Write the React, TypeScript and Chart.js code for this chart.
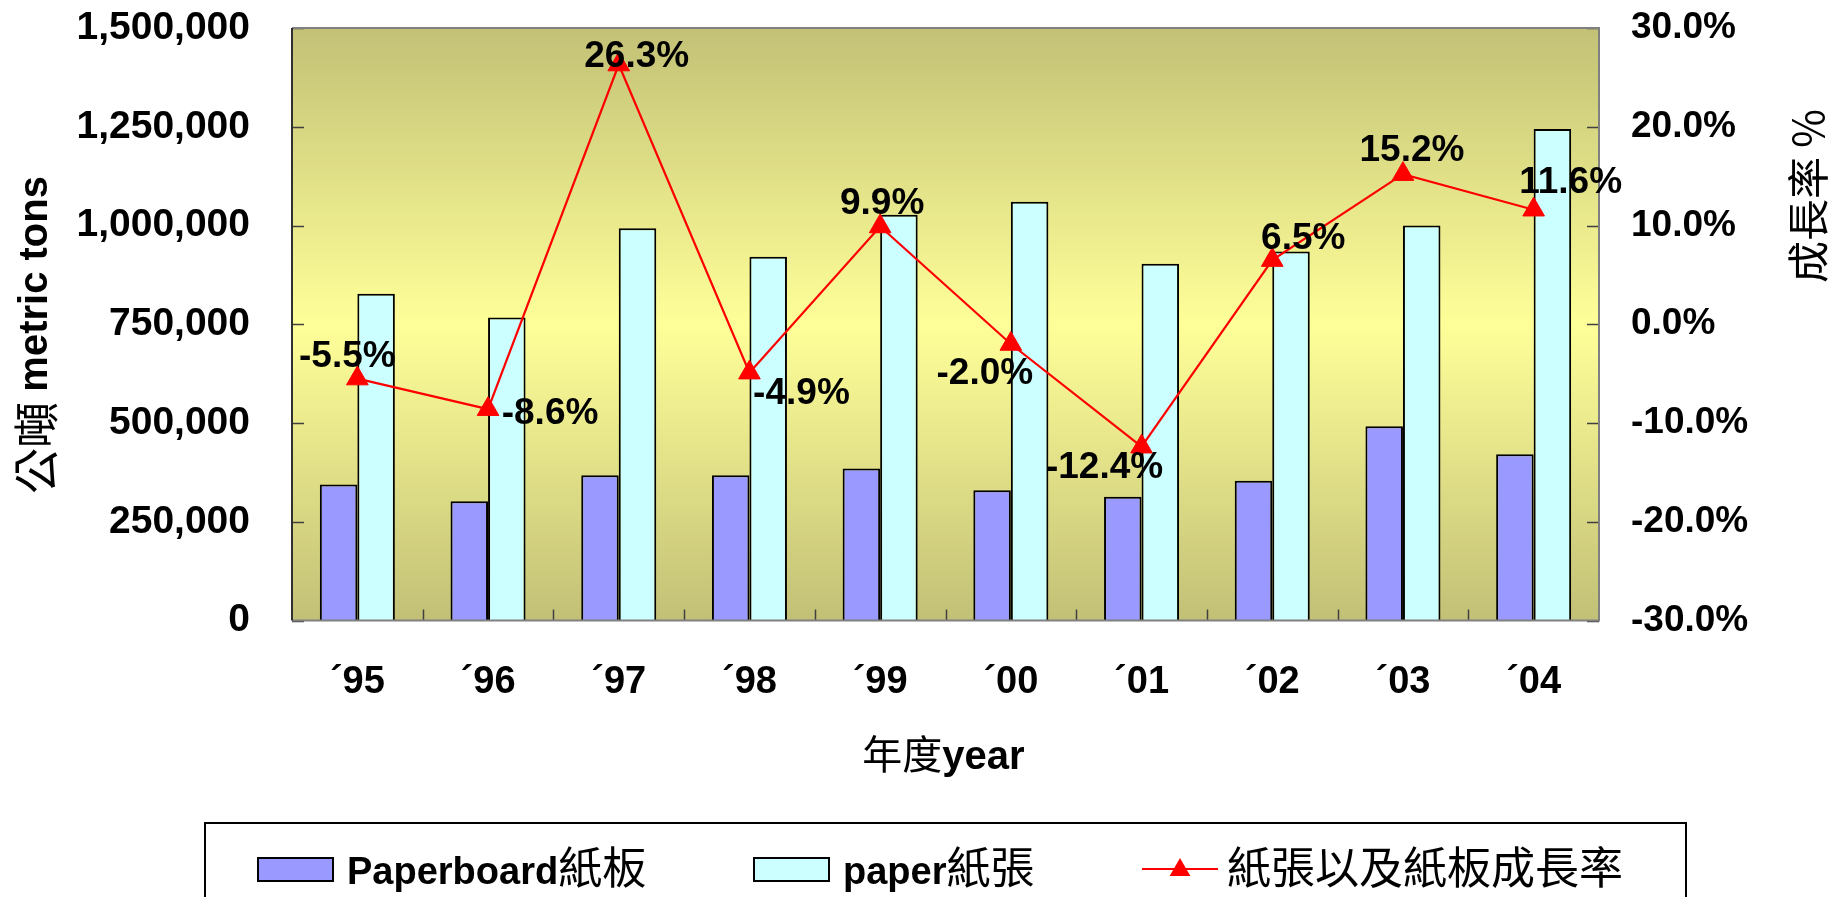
import React, { useEffect, useRef } from 'react';
import { Chart, registerables } from 'chart.js';

Chart.register(...registerables);

// ---- data ----
const years = ['´95', '´96', '´97', '´98', '´99', '´00', '´01', '´02', '´03', '´04'];
const paperboard = [344000, 302000, 368000, 368000, 385000, 330000, 313000, 354000, 492000, 421000];
const paper = [827000, 767000, 993000, 921000, 1027000, 1060000, 903000, 934000, 1000000, 1244000];
const growth = [-5.5, -8.6, 26.3, -4.9, 9.9, -2.0, -12.4, 6.5, 15.2, 11.6];

const seriesNames = ['Paperboard紙板', 'paper紙張', '紙張以及紙板成長率'];
const xTitle = [{ t: '年度', bold: false }, { t: 'year', bold: true }];
const yTitle = [{ t: '公噸 ', bold: false }, { t: 'metric tons', bold: true }];
const y1Title = [{ t: '成長率 %', bold: false }];

// label placement (offset of each growth label centre from its point)
const growthLabelOffsets = [
  [-10, -24], [62, 3], [18, -10], [52, 19], [2, -25],
  [-26, 28], [-37, 19], [31, -23], [9, -25], [37, -29],
];

const LATIN = '"Liberation Sans", Arial, sans-serif';
const CJK = '"Noto Sans CJK TC", "Noto Sans CJK SC", sans-serif';
const FS = 37;

type Part = { t: string; bold: boolean };

function partFont(p: Part, size: number, cjkSize: number) {
  return p.bold ? `bold ${size}px ${LATIN}` : `${cjkSize}px ${CJK}`;
}
function measureParts(ctx: CanvasRenderingContext2D, parts: Part[], size: number, cjkSize: number) {
  let w = 0;
  for (const p of parts) {
    ctx.font = partFont(p, size, cjkSize);
    w += ctx.measureText(p.t).width;
  }
  return w;
}
function drawParts(ctx: CanvasRenderingContext2D, parts: Part[], x: number, y: number, size: number, cjkSize: number, align: 'left' | 'center') {
  const total = measureParts(ctx, parts, size, cjkSize);
  let cx = align === 'center' ? x - total / 2 : x;
  ctx.textAlign = 'left';
  for (const p of parts) {
    ctx.font = partFont(p, size, cjkSize);
    ctx.fillText(p.t, cx, y);
    cx += ctx.measureText(p.t).width;
  }
}
function splitLatinCjk(s: string): Part[] {
  const parts: Part[] = [];
  const re = /([\x00-\x7F´]+)|([^\x00-\x7F´]+)/g;
  let m: RegExpExecArray | null;
  while ((m = re.exec(s))) {
    if (m[1]) parts.push({ t: m[1], bold: true });
    else parts.push({ t: m[2], bold: false });
  }
  return parts;
}

const PURPLE = '#9999FF';
const CYAN = '#CCFFFF';
const RED = '#FF0000';

const decorPlugin = {
  id: 'decor',
  beforeDatasetsDraw(chart: any) {
    const { ctx, chartArea: a, scales } = chart;
    ctx.save();
    const g = ctx.createLinearGradient(0, a.top, 0, a.bottom);
    g.addColorStop(0, '#C2C176');
    g.addColorStop(0.5, '#FFFF99');
    g.addColorStop(1, '#C2C076');
    ctx.fillStyle = g;
    ctx.fillRect(a.left, a.top, a.right - a.left, a.bottom - a.top);

    // inward ticks
    ctx.strokeStyle = '#404040';
    ctx.lineWidth = 1.5;
    ctx.beginPath();
    scales.y.ticks.forEach((t: any) => {
      const py = Math.round(scales.y.getPixelForValue(t.value)) + 0.5;
      ctx.moveTo(a.left, py);
      ctx.lineTo(a.left + 12, py);
    });
    scales.y1.ticks.forEach((t: any) => {
      const py = Math.round(scales.y1.getPixelForValue(t.value)) + 0.5;
      ctx.moveTo(a.right, py);
      ctx.lineTo(a.right - 12, py);
    });
    const n = years.length;
    const w = (a.right - a.left) / n;
    for (let k = 1; k < n; k++) {
      const px = Math.round(a.left + k * w) + 0.5;
      ctx.moveTo(px, a.bottom);
      ctx.lineTo(px, a.bottom - 11);
    }
    ctx.stroke();
    ctx.restore();
  },
  afterDatasetsDraw(chart: any) {
    const { ctx, chartArea: a } = chart;
    ctx.save();
    // frame
    ctx.lineWidth = 2;
    ctx.strokeStyle = '#808080';
    ctx.beginPath();
    ctx.moveTo(a.left, a.top);
    ctx.lineTo(a.right, a.top);
    ctx.lineTo(a.right, a.bottom);
    ctx.lineTo(a.left, a.bottom);
    ctx.stroke();
    ctx.strokeStyle = '#303030';
    ctx.beginPath();
    ctx.moveTo(a.left, a.top);
    ctx.lineTo(a.left, a.bottom);
    ctx.stroke();

    // growth labels
    const meta = chart.getDatasetMeta(2);
    ctx.fillStyle = '#000';
    ctx.font = `bold ${FS}px ${LATIN}`;
    ctx.textAlign = 'center';
    ctx.textBaseline = 'middle';
    meta.data.forEach((pt: any, i: number) => {
      const [dx, dy] = growthLabelOffsets[i];
      ctx.fillText(growth[i].toFixed(1) + '%', pt.x + dx, pt.y + dy + 2);
    });
    ctx.restore();
  },
  afterDraw(chart: any) {
    const { ctx, chartArea: a } = chart;
    ctx.save();
    ctx.fillStyle = '#000';
    // x title
    ctx.textBaseline = 'alphabetic';
    drawParts(ctx, xTitle, (a.left + a.right) / 2 - 2, 769, 40, 40, 'center');
    // left y title
    ctx.save();
    ctx.translate(36, 335);
    ctx.rotate(-Math.PI / 2);
    ctx.textBaseline = 'middle';
    drawParts(ctx, yTitle, 0, 0, 40, 46, 'center');
    ctx.restore();
    // right y title
    ctx.save();
    ctx.translate(1808, 196);
    ctx.rotate(-Math.PI / 2);
    ctx.textBaseline = 'middle';
    drawParts(ctx, y1Title, 0, 0, 40, 42, 'center');
    ctx.restore();

    // legend box
    ctx.strokeStyle = '#000';
    ctx.lineWidth = 2;
    ctx.strokeRect(205, 823, 1686 - 205, 120);

    const swY = 858, swH = 23, swW = 75;
    const items = [
      { x: 258, color: PURPLE, kind: 'bar' },
      { x: 754, color: CYAN, kind: 'bar' },
      { x: 1142, color: RED, kind: 'line' },
    ];
    items.forEach((it, i) => {
      if (it.kind === 'bar') {
        ctx.fillStyle = it.color;
        ctx.fillRect(it.x, swY, swW, swH);
        ctx.strokeStyle = '#000';
        ctx.lineWidth = 2;
        ctx.strokeRect(it.x, swY, swW, swH);
      } else {
        ctx.strokeStyle = RED;
        ctx.lineWidth = 2;
        ctx.beginPath();
        ctx.moveTo(it.x, 869);
        ctx.lineTo(it.x + 76, 869);
        ctx.stroke();
        ctx.fillStyle = RED;
        const cx = it.x + 38, cy = 870, r = 12;
        ctx.beginPath();
        ctx.moveTo(cx, cy - r);
        ctx.lineTo(cx + r * 0.866, cy + r / 2);
        ctx.lineTo(cx - r * 0.866, cy + r / 2);
        ctx.closePath();
        ctx.fill();
      }
      ctx.fillStyle = '#000';
      ctx.textBaseline = 'alphabetic';
      drawParts(ctx, splitLatinCjk(seriesNames[i]), it.x + swW + (it.kind === 'bar' ? 14 : 10), 884, 38, 44, 'left');
    });
    ctx.restore();
  },
};

export default function App() {
  const ref = useRef<HTMLCanvasElement>(null);
  useEffect(() => {
    document.body.style.margin = '0';
    document.body.style.overflow = 'hidden';
    const chart = new Chart(ref.current!, {
      type: 'bar',
      data: {
        labels: years,
        datasets: [
          {
            label: seriesNames[0],
            data: paperboard,
            backgroundColor: PURPLE,
            borderColor: '#000',
            borderWidth: 2,
            yAxisID: 'y',
            order: 1,
            categoryPercentage: 0.574,
            barPercentage: 1.0,
          },
          {
            label: seriesNames[1],
            data: paper,
            backgroundColor: CYAN,
            borderColor: '#000',
            borderWidth: 2,
            yAxisID: 'y',
            order: 1,
            categoryPercentage: 0.574,
            barPercentage: 1.0,
          },
          {
            type: 'line',
            label: seriesNames[2],
            data: growth,
            borderColor: RED,
            backgroundColor: RED,
            borderWidth: 2.2,
            pointStyle: 'triangle',
            pointRadius: 12.5,
            pointBorderWidth: 1,
            pointBorderColor: RED,
            pointBackgroundColor: RED,
            tension: 0,
            yAxisID: 'y1',
            order: 0,
          } as any,
        ],
      },
      options: {
        animation: false,
        responsive: true,
        maintainAspectRatio: false,
        layout: { padding: { top: 28, left: 0, right: 0, bottom: 0 } },
        plugins: {
          legend: { display: false },
          tooltip: { enabled: false },
        },
        scales: {
          x: {
            position: 'bottom',
            grid: { display: false, drawTicks: false },
            border: { display: false },
            ticks: {
              color: '#000',
              font: { family: LATIN, size: 38, weight: 'bold' },
              padding: 39,
              maxRotation: 0,
              autoSkip: false,
            },
            afterFit: (s: any) => { s.height = 276.5; s.paddingLeft = 0; s.paddingRight = 0; },
          },
          y: {
            position: 'left',
            min: 0,
            max: 1500000,
            grid: { display: false, drawTicks: false },
            border: { display: false },
            ticks: {
              stepSize: 250000,
              color: '#000',
              font: { family: LATIN, size: 39, weight: 'bold' },
              padding: 42,
              callback: (v: any) => Number(v).toLocaleString('en-US'),
            },
            afterFit: (s: any) => { s.width = 292; s.paddingTop = 0; s.paddingBottom = 0; },
          },
          y1: {
            position: 'right',
            min: -30,
            max: 30,
            grid: { display: false, drawTicks: false },
            border: { display: false },
            ticks: {
              stepSize: 10,
              color: '#000',
              font: { family: LATIN, size: FS, weight: 'bold' },
              padding: 32,
              callback: (v: any) => Number(v).toFixed(1) + '%',
            },
            afterFit: (s: any) => { s.width = 234; s.paddingTop = 0; s.paddingBottom = 0; },
          },
        },
      } as any,
      plugins: [decorPlugin],
    });
    return () => chart.destroy();
  }, []);
  return (
    <div style={{ width: 1833, height: 897, position: 'relative', background: '#fff' }}>
      <canvas ref={ref} />
    </div>
  );
}
